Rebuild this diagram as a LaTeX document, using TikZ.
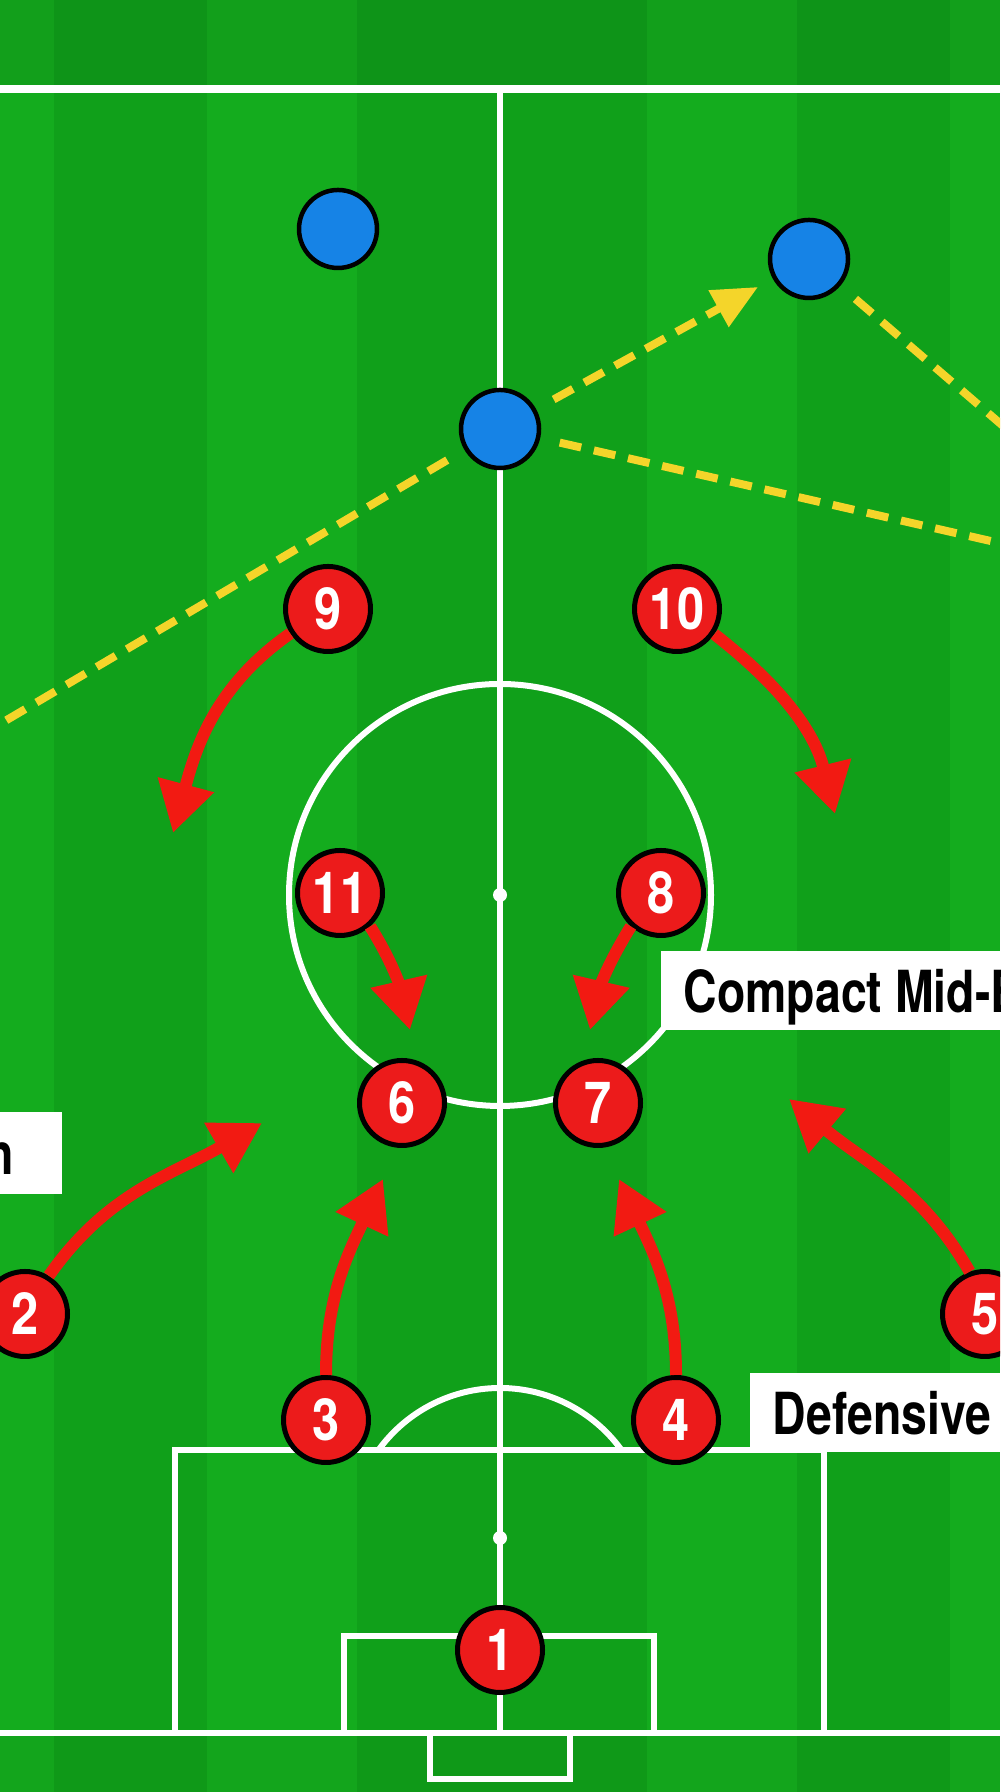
\documentclass[tikz,border=0pt]{standalone}
\usepackage[]{xcolor}
\usepackage{fontspec}
\usepackage{tikz}
\usetikzlibrary{arrows.meta}
\newfontfamily\labelfont[FakeStretch=0.8]{TeX Gyre Heros}
\newfontfamily\numfont[FakeStretch=0.84]{TeX Gyre Heros}
\definecolor{pitchlight}{HTML}{14AC1E}
\definecolor{pitchdark}{HTML}{10A01A}
\definecolor{playerred}{HTML}{EC1B1B}
\definecolor{arrowred}{HTML}{F21A12}
\definecolor{playerblue}{HTML}{1683E6}
\definecolor{passyellow}{HTML}{F4D52A}
\tikzset{
  pitchline/.style={draw=white,line width=0.6mm},
  redplayer/.style={circle,fill=playerred,draw=black,line width=0.5mm,minimum size=8.5mm,inner sep=0pt,text=white,font=\numfont\bfseries\fontsize{16.5pt}{18pt}\selectfont},
  blueplayer/.style={circle,fill=playerblue,draw=black,line width=0.45mm,minimum size=7.8mm,inner sep=0pt},
  runarrow/.style={draw=arrowred,line width=1.2mm,-{Triangle[length=5mm,width=5.5mm]}},
  passline/.style={draw=passyellow,line width=0.8mm,dash pattern=on 2.2mm off 1.3mm,shorten <=2mm},
  passarrow/.style={passline,shorten >=1.7mm,-{Triangle[length=4.5mm,width=4mm]}},
  labelbox/.style={fill=white,text=black,font=\labelfont\bfseries\fontsize{16.5pt}{18pt}\selectfont,inner xsep=2.3mm,inner ysep=0pt,text height=6.1mm,text depth=1.8mm,anchor=south west}
}
\begin{document}
\begin{tikzpicture}[x=0.1mm,y=0.1mm]
      \useasboundingbox (0,0) rectangle (1000,1792);
      \clip (0,0) rectangle (1000,1792);
      \fill[pitchdark] (0,0) rectangle (1000,1792);
      \fill[pitchlight] (0,0) rectangle (54,1792);
      \fill[pitchlight] (207,0) rectangle (357,1792);
      \fill[pitchlight] (647,0) rectangle (797,1792);
      \fill[pitchlight] (950,0) rectangle (1000,1792);
      \fill[black,opacity=0.07] (0,1703) rectangle (1000,1792);
      \fill[black,opacity=0.04] (0,0) rectangle (1000,59);
      \draw[pitchline,line width=0.75mm] (-10,1703) -- (1010,1703);
      \draw[pitchline] (-10,59) -- (1010,59);
      \draw[pitchline] (500,59) -- (500,1703);
      \draw[pitchline] (175,59) rectangle (824,342);
      \draw[pitchline] (344,59) rectangle (654,156);
      \draw[pitchline] (430,59) -- (430,13) -- (570,13) -- (570,59);
      \draw[pitchline] (500,254) ++(36:150) arc[start angle=36,end angle=144,radius=150];
      \draw[pitchline] (500,897) circle[radius=211];
      \fill[white] (500,897) circle[radius=7];
      \fill[white] (500,254) circle[radius=7];
      \node[labelbox] (midblock) at (660,761) {Compact Mid-Block};
      \node[labelbox] (defline) at (749,339) {Defensive Line};
      \node[labelbox,anchor=south east,text height=6.2mm,text depth=2mm] (transition) at (63,597) {Transition\hspace*{2.5mm}};
      \node[blueplayer] (b1) at (338,1563) {};
      \node[blueplayer] (b2) at (809,1533) {};
      \node[blueplayer] (b3) at (500,1363) {};
      \node[redplayer] (p1) at (500,142) {1};
      \node[redplayer] (p2) at (25,478) {2};
      \node[redplayer] (p3) at (326,372) {3};
      \node[redplayer] (p4) at (676,372) {4};
      \node[redplayer] (p5) at (985,478) {5};
      \node[redplayer] (p6) at (402,689) {6};
      \node[redplayer] (p7) at (598,689) {7};
      \node[redplayer] (p8) at (661,899) {8};
      \node[redplayer] (p9) at (328,1183) {9};
      \node[redplayer] (p10) at (677,1183) {10};
      \node[redplayer] (p11) at (340,899) {11};
      \coordinate (offL) at (-100,1009);
      \coordinate (offR1) at (1060,1317);
      \coordinate (offR2) at (1100,1226);
      \draw[passarrow] (b3) -- (b2);
      \draw[passline] (b3) -- (offL);
      \draw[passline] (b3) -- (offR2);
      \draw[passline] (b2) -- (offR1);
      \coordinate (t9) at (173,959);
      \coordinate (t10) at (835,978);
      \coordinate (t11) at (410,762);
      \coordinate (t8) at (590,762);
      \coordinate (t2) at (262,669);
      \coordinate (t3) at (383,613);
      \coordinate (t4) at (619,613);
      \coordinate (t5) at (789,693);
      \draw[runarrow] (p9.213) to[out=215,in=75] (t9);
      \draw[runarrow] (p10.-34) to[out=-38,in=104] (t10);
      \draw[runarrow] (p11.-48) to[out=-58,in=103] (t11);
      \draw[runarrow] (p8.-132) to[out=-122,in=77] (t8);
      \draw[runarrow] (p2.58) to[out=55,in=210] (t2);
      \draw[runarrow] (p3.north) to[out=90,in=245] (t3);
      \draw[runarrow] (p4.north) to[out=90,in=295] (t4);
      \draw[runarrow] (p5.110) to[out=120,in=320] (t5);
\end{tikzpicture}
\end{document}
